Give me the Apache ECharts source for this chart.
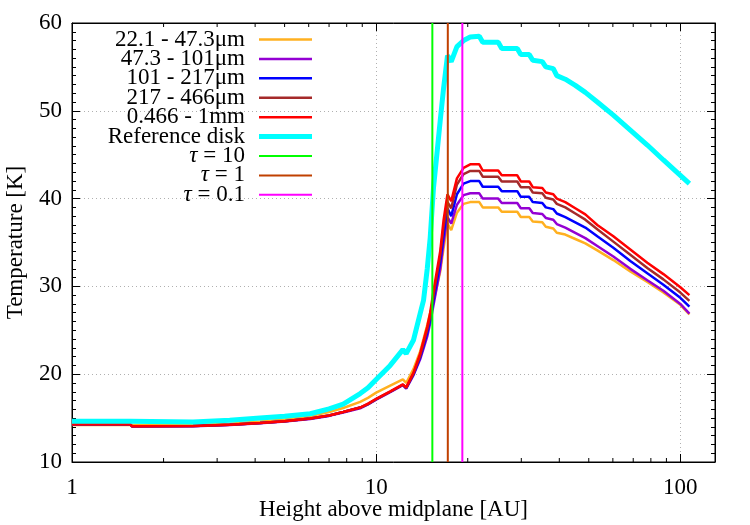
<!DOCTYPE html>
<html>
<head>
<meta charset="utf-8">
<script src="https://cdn.jsdelivr.net/npm/echarts@6/dist/echarts.min.js"></script>
<style>html,body{margin:0;padding:0;background:#fff}#c{width:750px;height:525px}</style>
</head>
<body>
<div id="c"></div>
<script>
// ---- data ----
const heightAU = [1.0, 1.552, 1.575, 2.50, 3.3, 4.15, 5.0, 6.07, 7.0, 7.79,
  8.86, 9.4, 10.0, 11.12,
  12.24, 12.55, 13.27, 13.95, 14.31, 14.72, 15.05, 15.44, 15.84, 16.24,
  16.65, 17.16, 17.65, 18.43, 19.38, 20.38, 21.83, 22.40, 25.19, 25.87,
  29.10, 29.88, 31.87, 32.72, 35.17, 36.11, 38.22, 39.25, 41.85, 45.15,
  48.71, 53.33, 60.21, 68.47, 77.88, 87.94, 100, 107.1];

const tOrange = [14.2,14.2,14.1,14.2,14.35,14.6,14.85,15.25,15.7,16.15,
  16.85,17.3,17.9,18.7,
  19.4,19.0,20.6,22.6,24.0,25.6,27.0,28.3,30.0,31.7,
  34.3,37.15,36.4,38.4,39.4,39.6,39.6,39.0,39.0,38.5,
  38.5,37.9,37.9,37.4,37.3,36.8,36.6,36.1,35.9,35.4,
  34.9,34.1,33.0,31.7,30.5,29.3,27.9,26.8];
const tPurple = [14.28,14.28,14.05,14.08,14.2,14.42,14.6,14.9,15.25,15.62,
  16.12,16.55,17.1,17.95,
  18.75,18.35,19.9,21.7,22.9,24.3,25.8,27.9,30.0,32.0,
  35.0,37.9,37.15,39.3,40.4,40.6,40.6,40.0,40.0,39.5,
  39.5,38.9,38.9,38.35,38.25,37.8,37.6,37.1,36.7,36.1,
  35.5,34.6,33.4,32.0,30.7,29.5,28.0,26.9];
const tBlue = [14.3,14.3,14.07,14.1,14.25,14.45,14.65,14.95,15.3,15.7,
  16.2,16.6,17.15,18.0,
  18.8,18.4,20.0,21.9,23.2,24.7,26.2,28.4,30.6,32.8,
  35.8,38.9,38.0,40.5,41.7,42.0,42.0,41.35,41.35,40.85,
  40.85,40.2,40.2,39.6,39.5,39.0,38.8,38.3,37.9,37.3,
  36.7,35.7,34.4,32.9,31.5,30.2,28.7,27.7];
const tBrown = [14.3,14.3,14.07,14.1,14.25,14.45,14.65,14.95,15.3,15.7,
  16.2,16.6,17.15,18.0,
  18.8,18.45,20.1,22.1,23.5,25.1,26.6,29.0,31.3,33.5,
  36.8,39.6,38.9,41.6,42.8,43.15,43.15,42.5,42.5,41.95,
  41.95,41.3,41.3,40.7,40.6,40.1,39.9,39.4,39.0,38.3,
  37.6,36.5,35.1,33.6,32.1,30.8,29.3,28.35];
const tRed = [14.3,14.3,14.07,14.1,14.25,14.45,14.65,14.95,15.3,15.7,
  16.2,16.65,17.2,18.05,
  18.85,18.5,20.2,22.35,23.8,25.4,27.0,29.5,31.8,34.0,
  37.5,40.5,39.7,42.3,43.5,43.9,43.9,43.2,43.2,42.65,
  42.65,41.95,41.95,41.3,41.2,40.7,40.5,40.0,39.6,38.9,
  38.2,37.0,35.7,34.2,32.7,31.4,29.9,29.0];
const tRef = [14.65,14.65,14.45,14.55,14.75,15.0,15.2,15.5,16.05,16.6,
  17.8,18.45,19.4,21.0,
  22.8,22.35,23.9,26.9,28.4,32.0,35.5,41.3,45.1,48.9,
  52.5,56.3,55.6,57.3,58.0,58.4,58.5,57.8,57.8,57.1,
  57.1,56.4,56.4,55.75,55.6,55.0,54.8,54.0,53.6,52.9,
  52.1,51.0,49.5,47.8,46.1,44.4,42.65,41.7];

const tauNames = ['τ = 10', 'τ = 1', 'τ = 0.1'];
const tauHeights = [15.3, 17.2, 19.2];

const seriesNames = ['22.1 - 47.3μm', '47.3 - 101μm', '101 - 217μm', '217 - 466μm', '0.466 - 1mm', 'Reference disk'];
const xTickLabels = [1, 10, 100];
const xMinorTicks = [2,3,4,5,6,7,8,9,20,30,40,50,60,70,80,90];
const yTicks = [10, 20, 30, 40, 50, 60];

// ---- styles ----
const FONT = "'Liberation Serif', 'DejaVu Serif', serif";
const FS = 23;
const curveColors = ['#ffb020', '#9400d3', '#0000ff', '#a52a2a', '#ff0000', '#00ffff'];
const curveWidths = [2.5, 2.5, 2.5, 2.5, 2.5, 5];
const tauColors = ['#00ff00', '#c04000', '#ff00ff'];
const curveData = [tOrange, tPurple, tBlue, tBrown, tRed, tRef];

const series = [];
curveData.forEach((arr, i) => {
  series.push({
    name: seriesNames[i], type: 'line', showSymbol: false, symbol: 'none',
    data: heightAU.map((h, j) => [h, arr[j]]),
    lineStyle: {color: curveColors[i], width: curveWidths[i]},
    itemStyle: {color: curveColors[i]},
    z: 2 + i, silent: true
  });
});
tauHeights.forEach((h, i) => {
  series.push({
    name: tauNames[i], type: 'line', showSymbol: false, symbol: 'none',
    data: [[h, yTicks[0]], [h, yTicks[yTicks.length - 1]]],
    lineStyle: {color: tauColors[i], width: 2},
    itemStyle: {color: tauColors[i]},
    z: 10 + i, silent: true
  });
});
// minor log ticks on bottom and top
series.push({
  type: 'custom', silent: true, z: 20,
  data: xMinorTicks.map(v => [v, yTicks[0]]),
  renderItem: function (params, api) {
    const v = api.value(0);
    const b = api.coord([v, yTicks[0]]);
    const t = api.coord([v, yTicks[yTicks.length - 1]]);
    return {type: 'group', children: [
      {type: 'line', shape: {x1: b[0], y1: b[1], x2: b[0], y2: b[1] - 4}, style: {stroke: '#000', lineWidth: 1}},
      {type: 'line', shape: {x1: t[0], y1: t[1], x2: t[0], y2: t[1] + 4}, style: {stroke: '#000', lineWidth: 1}}
    ]};
  }
});

const legendNames = seriesNames.concat(tauNames);
const legends = legendNames.map((n, i) => ({
  data: [n],
  right: 438,
  top: 39.5 + 19.42 * i - 11.5,
  orient: 'vertical',
  align: 'right',
  padding: 0,
  icon: 'rect',
  itemWidth: 53,
  itemHeight: i === 5 ? 5 : (i < 5 ? 2.5 : 2),
  selectedMode: false,
  formatter: function (name) { return name.indexOf('τ') === 0 ? '{i|τ}' + name.slice(1) : name; },
  textStyle: {
    fontFamily: FONT, fontSize: FS, color: '#000', lineHeight: 23, padding: [0, 9, 0, 0],
    rich: {i: {fontFamily: FONT, fontSize: FS, fontStyle: 'italic', color: '#000'}}
  }
}));

const axisLbl = {fontFamily: FONT, fontSize: FS, color: '#000'};
const option = {
  animation: false,
  backgroundColor: '#fff',
  grid: {left: 72, right: 35, top: 23, bottom: 63, containLabel: false, outerBoundsMode: 'none',
    show: true, borderColor: '#000', borderWidth: 1, backgroundColor: 'transparent'},
  legend: legends,
  xAxis: [{
    type: 'log', logBase: 10, min: 1, max: 130, position: 'bottom',
    name: 'Height above midplane [AU]', nameLocation: 'middle', nameGap: 36, nameMoveOverlap: false,
    nameTextStyle: {fontFamily: FONT, fontSize: FS, color: '#000'},
    axisLine: {show: true, lineStyle: {color: '#000', width: 1}},
    axisTick: {show: true, inside: true, length: 8, lineStyle: {color: '#000'}},
    axisLabel: Object.assign({margin: 14, formatter: function (v) {
      const r = Math.round(v);
      return (xTickLabels.indexOf(r) >= 0 && Math.abs(v - r) < 0.01) ? String(r) : '';
    }}, axisLbl),
    splitLine: {show: true, lineStyle: {color: '#b0b0b0', type: [1, 3], width: 1}}
  }, {
    type: 'log', logBase: 10, min: 1, max: 130, position: 'top',
    axisLine: {show: true, lineStyle: {color: '#000'}},
    axisTick: {show: true, inside: true, length: 8, lineStyle: {color: '#000'}},
    axisLabel: {show: false}, splitLine: {show: false}
  }],
  yAxis: [{
    type: 'value', min: 10, max: 60, interval: 10, position: 'left',
    name: 'Temperature [K]', nameLocation: 'middle', nameGap: 45, nameMoveOverlap: false,
    nameTextStyle: {fontFamily: FONT, fontSize: FS, color: '#000'},
    axisLine: {show: true, lineStyle: {color: '#000', width: 1}},
    axisTick: {show: true, inside: true, length: 8, lineStyle: {color: '#000'}},
    minorTick: {show: true, splitNumber: 10, length: 4, lineStyle: {color: '#000'}},
    axisLabel: Object.assign({margin: 10}, axisLbl),
    splitLine: {show: true, lineStyle: {color: '#b0b0b0', type: [1, 3], width: 1}}
  }, {
    type: 'value', min: 10, max: 60, interval: 10, position: 'right',
    axisLine: {show: true, lineStyle: {color: '#000'}},
    axisTick: {show: true, inside: true, length: 8, lineStyle: {color: '#000'}},
    minorTick: {show: true, splitNumber: 10, length: 4, lineStyle: {color: '#000'}},
    axisLabel: {show: false}, splitLine: {show: false}
  }],
  series: series
};
const chart = echarts.init(document.getElementById('c'), null, {renderer: 'canvas'});
chart.setOption(option);
</script>
</body>
</html>
